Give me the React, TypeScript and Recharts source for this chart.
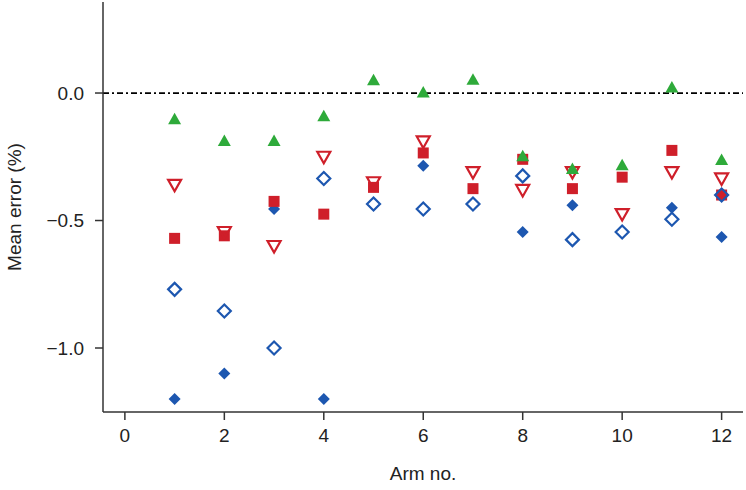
import { ReferenceLine, Scatter, ScatterChart, XAxis, YAxis } from 'recharts';

const arms = [1, 2, 3, 4, 5, 6, 7, 8, 9, 10, 11, 12];
const greenTriangles = [-0.105, -0.19, -0.19, -0.093, 0.048, 0.0, 0.05, -0.25, -0.3, -0.285, 0.02, -0.265];
const redOpenTriangles = [-0.36, -0.545, -0.6, -0.25, -0.35, -0.19, -0.31, -0.38, -0.31, -0.475, -0.31, -0.335];
const redSquares = [-0.57, -0.56, -0.425, -0.475, -0.37, -0.235, -0.375, -0.26, -0.375, -0.33, -0.225, -0.4];
const blueOpenDiamonds = [-0.77, -0.855, -1.0, -0.335, -0.435, -0.455, -0.435, -0.325, -0.575, -0.545, -0.495, -0.4];
const blueFilledDiamonds = [-1.2, -1.1, -0.455, -1.2, null, -0.285, null, -0.545, -0.44, null, -0.45, -0.565];

const xTicks = [0, 2, 4, 6, 8, 10, 12];
const yTicks = [-1, -0.5, 0];

const GREEN = '#2eaa3a';
const RED = '#cf1f2a';
const BLUE = '#1d57b0';
const AXIS = '#333';

const toPoints = (vals: (number | null)[]) =>
  arms.map((arm, i) => ({ arm, err: vals[i] })).filter((p) => p.err !== null);

const UpTriangle = (p: any) => (
  <polygon
    points={`${p.cx},${p.cy - 7} ${p.cx - 6.5},${p.cy + 4.5} ${p.cx + 6.5},${p.cy + 4.5}`}
    fill={GREEN}
  />
);

const DownTriangle = (p: any) => (
  <polygon
    points={`${p.cx - 6.5},${p.cy - 5} ${p.cx + 6.5},${p.cy - 5} ${p.cx},${p.cy + 6.5}`}
    fill="none"
    stroke={RED}
    strokeWidth={2.2}
  />
);

const Square = (p: any) => <rect x={p.cx - 5.5} y={p.cy - 5.5} width={11} height={11} fill={RED} />;

const OpenDiamond = (p: any) => (
  <polygon
    points={`${p.cx},${p.cy - 6.5} ${p.cx + 6.5},${p.cy} ${p.cx},${p.cy + 6.5} ${p.cx - 6.5},${p.cy}`}
    fill="none"
    stroke={BLUE}
    strokeWidth={2.2}
  />
);

const FilledDiamond = (p: any) => (
  <polygon
    points={`${p.cx},${p.cy - 6} ${p.cx + 6},${p.cy} ${p.cx},${p.cy + 6} ${p.cx - 6},${p.cy}`}
    fill={BLUE}
  />
);

const fmt = (v: number) => v.toFixed(1).replace('-', '\u2212');

export default function App() {
  const tickStyle = { fill: '#222', fontSize: 19 };
  return (
    <div style={{ position: 'absolute', left: 0, top: 0, fontFamily: '"Liberation Sans", Arial, sans-serif' }}>
      <ScatterChart width={746} height={490} margin={{ top: 2, right: 3, left: 0, bottom: 0 }}>
        <XAxis
          dataKey="arm"
          type="number"
          domain={[-0.44, 12.43]}
          ticks={xTicks}
          allowDataOverflow
          height={78}
          tickSize={8}
          tickMargin={9}
          tick={tickStyle}
          stroke={AXIS}
          strokeWidth={1.5}
          label={{ value: 'Arm no.', position: 'insideBottom', offset: 10, fill: '#222', fontSize: 19 }}
        />
        <XAxis
          xAxisId="top"
          orientation="top"
          type="number"
          domain={[-0.44, 12.43]}
          height={0}
          tick={false}
          tickLine={false}
          stroke={AXIS}
          strokeWidth={1.5}
        />
        <YAxis
          dataKey="err"
          type="number"
          domain={[-1.251, 0.357]}
          ticks={yTicks}
          allowDataOverflow
          width={103}
          tickSize={8}
          tickMargin={11}
          tickFormatter={fmt}
          tick={tickStyle}
          stroke={AXIS}
          strokeWidth={1.5}
          label={{
            value: 'Mean error (%)',
            angle: -90,
            position: 'insideLeft',
            offset: 14,
            fill: '#222',
            fontSize: 19,
            style: { textAnchor: 'middle' },
          }}
        />
        <YAxis
          yAxisId="right"
          orientation="right"
          type="number"
          domain={[-1.251, 0.357]}
          width={0}
          tick={false}
          tickLine={false}
          stroke={AXIS}
          strokeWidth={1.5}
        />
        <ReferenceLine y={0} stroke="#000" strokeWidth={1.8} strokeDasharray="6 3 2 3" />
        <Scatter data={toPoints(blueFilledDiamonds)} shape={FilledDiamond} isAnimationActive={false} />
        <Scatter data={toPoints(redSquares)} shape={Square} isAnimationActive={false} />
        <Scatter data={toPoints(redOpenTriangles)} shape={DownTriangle} isAnimationActive={false} />
        <Scatter data={toPoints(blueOpenDiamonds)} shape={OpenDiamond} isAnimationActive={false} />
        <Scatter data={toPoints(greenTriangles)} shape={UpTriangle} isAnimationActive={false} />
      </ScatterChart>
    </div>
  );
}
